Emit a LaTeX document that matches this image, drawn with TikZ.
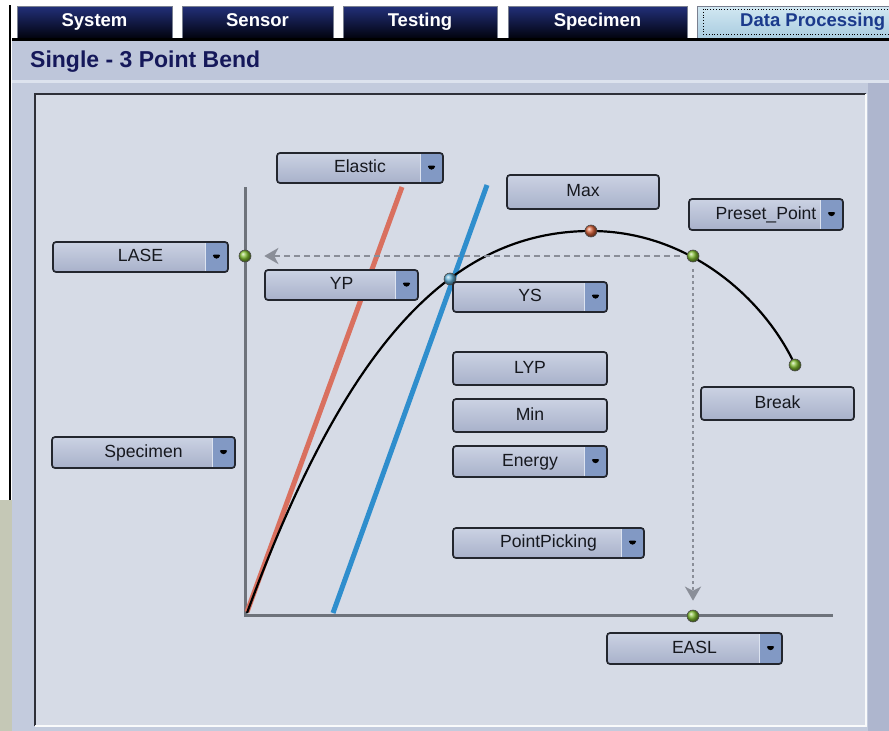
\documentclass[tikz,border=0pt]{standalone}
\usepackage{fontspec}
\setmainfont{Liberation Sans}
\usetikzlibrary{arrows.meta,calc}

\definecolor{panelbg}{HTML}{C3CBDD}
\definecolor{titleband}{HTML}{BEC6DA}
\definecolor{bandline}{HTML}{DDE3EE}
\definecolor{innerbg}{HTML}{D6DBE6}
\definecolor{rightstrip}{HTML}{AEB6CE}
\definecolor{frameedge}{HTML}{2E3038}
\definecolor{titlecol}{HTML}{15185A}
\definecolor{tabtop}{HTML}{22307A}
\definecolor{tabbot}{HTML}{02030E}
\definecolor{tabedge}{HTML}{7A8090}
\definecolor{acttop}{HTML}{D2E8F2}
\definecolor{actbot}{HTML}{A9CCE0}
\definecolor{acttext}{HTML}{1B3A8C}
\definecolor{btntop}{HTML}{CBD2E3}
\definecolor{btnbot}{HTML}{A8B1CA}
\definecolor{btnedge}{HTML}{23262E}
\definecolor{btntext}{HTML}{16181E}
\definecolor{ddfill}{HTML}{8299C4}
\definecolor{ddedge}{HTML}{DCE3F0}
\definecolor{axiscol}{HTML}{6E737B}
\definecolor{elasticcol}{HTML}{D9705F}
\definecolor{offsetcol}{HTML}{2F8ECD}
\definecolor{guidecol}{HTML}{8A8E98}
\definecolor{gritty}{HTML}{C5C8B6}

\newcommand\btnfont{\fontsize{17.6}{19}\selectfont}
\newcommand\tabfont{\fontsize{18.5}{20}\selectfont\bfseries}
\newcommand\titlefont{\fontsize{23}{25}\selectfont\bfseries}

% plain button: name, x1, y1, x2, y2, label
\newcommand\plainbtn[6]{%
  \node[btn, minimum width={#4-#2}, minimum height={#5-#3}] (#1)
    at ({(#2+#4)/2},{(#3+#5)/2}) {#6};}
% button with a drop-down part on its right
\newcommand\ddbtn[6]{%
  \node[btn, dropdown, minimum width={#4-#2}, minimum height={#5-#3}] (#1)
    at ({(#2+#4)/2},{(#3+#5)/2})
    {\makebox[\dimexpr#4pt-#2pt-23pt\relax]{#6}\hspace{23pt}};}

\begin{document}
\begin{tikzpicture}[x=1pt,y=-1pt,
  btn/.style={draw=btnedge, line width=1.7pt, rounded corners=3pt,
    top color=btntop, bottom color=btnbot, inner sep=0pt,
    text height=12.5pt, text depth=3.5pt,
    font=\btnfont, text=btntext},
  dropdown/.style={path picture={
    \fill[ddfill] ($(path picture bounding box.north east)+(-23pt,0pt)$)
      rectangle (path picture bounding box.south east);
    \draw[ddedge, line width=1pt]
      ($(path picture bounding box.north east)+(-23pt,0pt)$) --
      ($(path picture bounding box.south east)+(-23pt,0pt)$);
    \fill[black] ($(path picture bounding box.east)+(-16.5pt,2.5pt)$)
      -- ++(10pt,0pt) -- ++(-5pt,-5.5pt) -- cycle;}},
  tab/.style={draw=tabedge, line width=1pt, top color=tabtop, bottom color=tabbot,
    inner sep=0pt, text height=13pt, text depth=4pt, font=\tabfont, text=white},
  acttab/.style={draw=tabedge, line width=1pt, top color=acttop, bottom color=actbot,
    inner sep=0pt},
  dot/.style={circle, inner sep=0pt, minimum size=12pt, draw=black!70, line width=0.6pt},
  guide/.style={guidecol, line width=2.5pt,
    -{Stealth[length=14pt, width=16pt, inset=4pt]}},
]
\useasboundingbox (0,0) rectangle (889,731);

% window background
\fill[white] (0,0) rectangle (889,731);
\fill[panelbg] (12,38) rectangle (889,731);
\fill[titleband] (12,40) rectangle (889,80);
\fill[bandline] (12,80) rectangle (889,83);
\fill[rightstrip] (868,83) rectangle (889,731);
\fill[gritty] (0,500) rectangle (12,731);
\draw[black, line width=2.5pt] (10,5) -- (10,500);

% tab bar
\node[tab, minimum width=155, minimum height=32] (tsys) at (94.5,22) {System};
\node[tab, minimum width=151, minimum height=32] (tsen) at (257.5,22) {Sensor};
\node[tab, minimum width=154, minimum height=32] (ttes) at (420,22) {Testing};
\node[tab, minimum width=179, minimum height=32] (tspe) at (597.5,22) {Specimen};
\node[acttab, minimum width=200, minimum height=32] (tdat) at (797,22) {};
\node[font=\tabfont, text=acttext, anchor=west, inner sep=0pt,
  text height=13pt, text depth=4pt] (tdatlbl) at (740,22) {Data Processing};
\draw[black, line width=0.8pt, dotted] (703,9) rectangle (892,34);
\draw[black, line width=3pt] (12,39.5) -- (889,39.5);

% title
\node[anchor=base west, font=\titlefont, text=titlecol, inner sep=0pt] (title)
  at (30,67) {Single - 3 Point Bend};

% chart frame
\fill[innerbg] (35,94) rectangle (866,726);
\draw[frameedge, line width=2pt] (35,726) -- (35,94) -- (866,94);
\draw[white!85!innerbg, line width=2pt] (35,726) -- (866,726) -- (866,94);

% axes
\coordinate (origin) at (245,615);
\coordinate (ytop) at (245,187);
\coordinate (xend) at (833,615);
\draw[axiscol, line width=3pt] (ytop) -- (origin) -- (xend);

% elastic and offset lines
\coordinate (e0) at (247,612);
\coordinate (e1) at (402,187);
\coordinate (o0) at (333,613);
\coordinate (o1) at (487,185);
\draw[elasticcol, line width=5pt] (e0) -- (e1);
\draw[offsetcol, line width=5pt] (o0) -- (o1);

% load curve: rises along the elastic slope, peaks, then falls to the break
\coordinate (c0) at (247,613);
\coordinate (cmax) at (591,231);
\coordinate (cend) at (795,365);
\draw[black, line width=2.2pt]
  (c0) .. controls (339,363) and (441,231) .. (cmax)
       .. controls (690,231) and (765,300) .. (cend);

% markers on the curve and the axes
\node[dot, ball color={rgb,255:red,128;green,188;blue,48}] (lase)  at (245,256) {};
\node[dot, ball color={rgb,255:red,96;green,176;blue,216}] (ys)    at (450,279) {};
\node[dot, ball color={rgb,255:red,214;green,96;blue,56}]  (maxpt) at (cmax) {};
\node[dot, ball color={rgb,255:red,128;green,188;blue,48}] (preset) at (693,256) {};
\node[dot, ball color={rgb,255:red,128;green,188;blue,48}] (brk)   at (cend) {};
\node[dot, ball color={rgb,255:red,128;green,188;blue,48}] (easl)  at (693,616) {};

% projection guides from the preset point
\draw[guide, dash pattern=on 6pt off 4pt, shorten <=7pt, shorten >=13pt] (preset) -- (lase);
\draw[guide, dash pattern=on 3pt off 3pt, shorten <=7pt, shorten >=9pt] (preset) -- (easl);

% controls
\ddbtn{bElastic}{277}{153}{443}{183}{Elastic}
\ddbtn{bLase}{53}{242}{228}{272}{LASE}
\ddbtn{bYp}{265}{270}{418}{300}{YP}
\plainbtn{bMax}{507}{175}{659}{209}{Max}
\ddbtn{bPreset}{689}{199}{843}{230}{Preset\_Point}
\ddbtn{bYs}{453}{282}{607}{312}{YS}
\plainbtn{bLyp}{453}{352}{607}{385}{LYP}
\plainbtn{bMin}{453}{399}{607}{432}{Min}
\ddbtn{bEnergy}{453}{446}{607}{477}{Energy}
\ddbtn{bPick}{453}{528}{644}{558}{PointPicking}
\plainbtn{bBreak}{701}{387}{854}{420}{Break}
\ddbtn{bSpec}{52}{437}{235}{468}{Specimen}
\ddbtn{bEasl}{607}{633}{782}{664}{EASL}
\end{tikzpicture}
\end{document}
